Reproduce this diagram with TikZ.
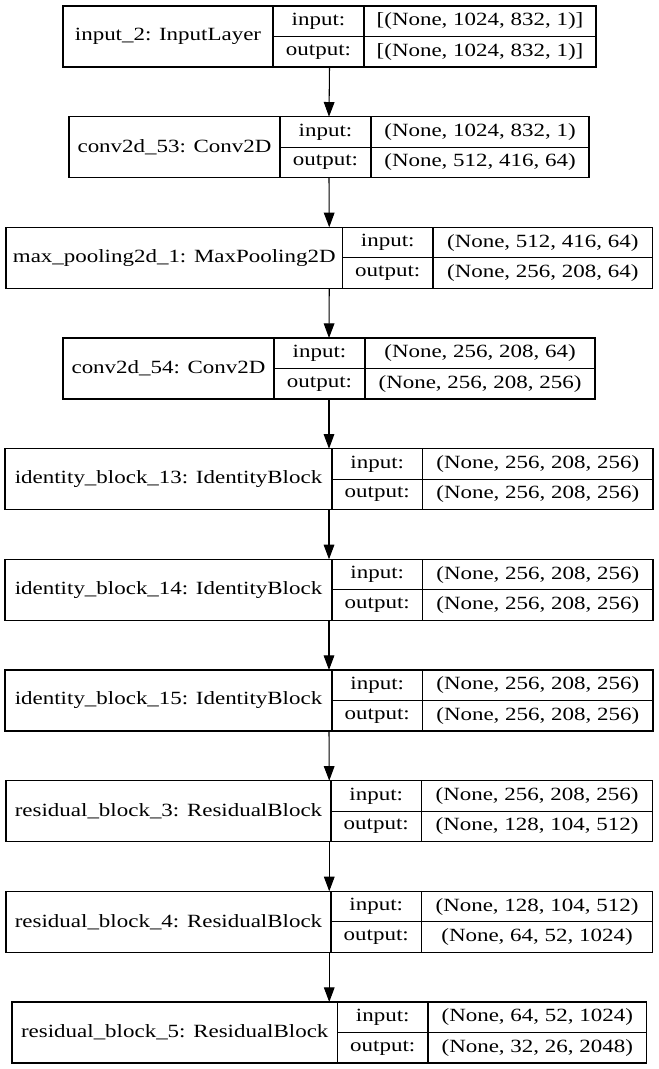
\documentclass[tikz,border=0pt]{standalone}
\usepackage{fontspec}
\setmainfont{Liberation Serif}[FakeStretch=1.23]
\usetikzlibrary{arrows.meta}

% one record: name | input:/output: | shapes
% #1 node name, #2 top edge, #3 left, #4 first divider, #5 second divider, #6 right
\newcommand{\layer}[9]{%
  \node[layerbox, minimum width={(#6-#3)*0.75pt}] (#1) at ({(#3+#6)/2}, {#2+30.5}) {};
  \draw ({#4}, {#2}) -- ({#4}, {#2+61});
  \draw ({#5}, {#2}) -- ({#5}, {#2+61});
  \draw ({#4}, {#2+30.5}) -- ({#6}, {#2+30.5});
  \node (#1-name) at ({(#3+#4)/2}, {#2+30.5}) {#7};
  \node (#1-in) at ({(#4+#5)/2}, {#2+15.25}) {input:};
  \node (#1-out) at ({(#4+#5)/2}, {#2+45.75}) {output:};
  \node (#1-inval) at ({(#5+#6)/2}, {#2+15.25}) {#8};
  \node (#1-outval) at ({(#5+#6)/2}, {#2+45.75}) {#9};
}

\begin{document}
\begin{tikzpicture}[x=0.75pt, y=-0.75pt, line width=0.8pt,
    font=\fontsize{14pt}{17pt}\selectfont,
    layerbox/.style={draw, inner sep=0pt, outer sep=0pt, minimum height=45.75pt},
    flow/.style={-{Triangle[length=11pt, width=8pt]}}]
    % --- Canvas ---
    \useasboundingbox (0,0) rectangle (659,1069);

    % --- Layers ---
    \layer{L1}{6}{63}{273}{364}{596}{input\_2: InputLayer}{[(None, 1024, 832, 1)]}{[(None, 1024, 832, 1)]}
    \layer{L2}{116.7}{69}{280}{371}{589}{conv2d\_53: Conv2D}{(None, 1024, 832, 1)}{(None, 512, 416, 64)}
    \layer{L3}{227.3}{6}{342.5}{433}{652.5}{max\_pooling2d\_1: MaxPooling2D}{(None, 512, 416, 64)}{(None, 256, 208, 64)}
    \layer{L4}{338}{63}{274}{365}{595}{conv2d\_54: Conv2D}{(None, 256, 208, 64)}{(None, 256, 208, 256)}
    \layer{L5}{448.7}{5}{332}{422.5}{653}{identity\_block\_13: IdentityBlock}{(None, 256, 208, 256)}{(None, 256, 208, 256)}
    \layer{L6}{559.3}{5}{332}{422.5}{653}{identity\_block\_14: IdentityBlock}{(None, 256, 208, 256)}{(None, 256, 208, 256)}
    \layer{L7}{670}{5}{332}{422.5}{653}{identity\_block\_15: IdentityBlock}{(None, 256, 208, 256)}{(None, 256, 208, 256)}
    \layer{L8}{780.7}{6}{331}{421.5}{652.5}{residual\_block\_3: ResidualBlock}{(None, 256, 208, 256)}{(None, 128, 104, 512)}
    \layer{L9}{891.3}{6}{331}{421.5}{652.5}{residual\_block\_4: ResidualBlock}{(None, 128, 104, 512)}{(None, 64, 52, 1024)}
    \layer{L10}{1002}{12}{337.5}{428}{646.5}{residual\_block\_5: ResidualBlock}{(None, 64, 52, 1024)}{(None, 32, 26, 2048)}

    % --- Connections ---
    \foreach \i in {1,...,9} {
        \pgfmathtruncatemacro{\j}{\i+1}
        \draw[flow] (L\i.south) -- (L\j.north);
    }
\end{tikzpicture}
\end{document}
